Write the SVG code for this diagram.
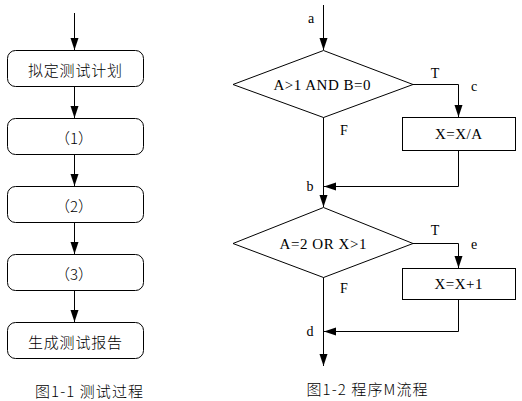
<svg xmlns="http://www.w3.org/2000/svg" width="522" height="401" viewBox="0 0 522 401">
<style>
.ln{stroke:#000;stroke-width:1;fill:none}
.bx{stroke:#000;stroke-width:1;fill:#fff}
.cjk{font-family:"Noto Sans CJK SC","Noto Sans",sans-serif;font-size:15px;font-weight:300;fill:#000}
.ser{font-family:"Liberation Serif",serif;font-size:15px;fill:#000}
.lab{font-family:"Liberation Serif",serif;font-size:14px;fill:#000}
</style>
<defs>
<marker id="ah" markerUnits="userSpaceOnUse" markerWidth="14" markerHeight="10" refX="12" refY="4" orient="auto">
<path d="M0,0 L12,4 L0,8 Z" fill="#000"/>
</marker>
</defs>
<rect width="522" height="401" fill="#fff"/>
<g id="connectors">
<line class="ln" x1="74.5" y1="13" x2="74.5" y2="50" marker-end="url(#ah)"/>
<line class="ln" x1="74.5" y1="86" x2="74.5" y2="118" marker-end="url(#ah)"/>
<line class="ln" x1="74.5" y1="154" x2="74.5" y2="186" marker-end="url(#ah)"/>
<line class="ln" x1="74.5" y1="222" x2="74.5" y2="254" marker-end="url(#ah)"/>
<line class="ln" x1="74.5" y1="290" x2="74.5" y2="322" marker-end="url(#ah)"/>
<line class="ln" x1="323.5" y1="5" x2="323.5" y2="50" marker-end="url(#ah)"/>
<polyline class="ln" points="413,84.5 458.5,84.5 458.5,117" marker-end="url(#ah)"/>
<line class="ln" x1="323.5" y1="117" x2="323.5" y2="207" marker-end="url(#ah)"/>
<polyline class="ln" points="458.5,150 458.5,186.5 324,186.5" marker-end="url(#ah)"/>
<polyline class="ln" points="413,243.5 458.5,243.5 458.5,268" marker-end="url(#ah)"/>
<polyline class="ln" points="458.5,299 458.5,331.5 324,331.5" marker-end="url(#ah)"/>
<line class="ln" x1="323.5" y1="277" x2="323.5" y2="366" marker-end="url(#ah)"/>
</g>
<g id="n1"><rect class="bx" x="7.5" y="50.5" width="136" height="36" rx="8"/><text class="cjk" x="75" y="69" text-anchor="middle" dominant-baseline="central" textLength="94">拟定测试计划</text></g>
<g id="n2"><rect class="bx" x="7.5" y="118.5" width="136" height="36" rx="8"/><text class="cjk" x="74" y="137" text-anchor="middle" dominant-baseline="central">（1）</text></g>
<g id="n3"><rect class="bx" x="7.5" y="186.5" width="136" height="36" rx="8"/><text class="cjk" x="74" y="205" text-anchor="middle" dominant-baseline="central">（2）</text></g>
<g id="n4"><rect class="bx" x="7.5" y="254.5" width="136" height="36" rx="8"/><text class="cjk" x="74" y="273" text-anchor="middle" dominant-baseline="central">（3）</text></g>
<g id="n5"><rect class="bx" x="7.5" y="322.5" width="136" height="36" rx="8"/><text class="cjk" x="75" y="341" text-anchor="middle" dominant-baseline="central" textLength="94">生成测试报告</text></g>
<g id="cap1"><text class="cjk" x="89" y="390" text-anchor="middle" dominant-baseline="central" font-size="14" textLength="108">图1-1 测试过程</text></g>
<g id="d1"><polygon class="bx" points="323.5,50.5 413,84.5 323.5,117.5 233,84.5"/><text class="ser" x="322" y="84.5" text-anchor="middle" dominant-baseline="central" textLength="97">A&gt;1 AND B=0</text></g>
<g id="p1"><rect class="bx" x="402.5" y="117.5" width="113" height="33"/><text class="ser" x="458.5" y="134" text-anchor="middle" dominant-baseline="central" textLength="47">X=X/A</text></g>
<g id="d2"><polygon class="bx" points="323.5,207.5 413,243.5 323.5,277.5 233,243.5"/><text class="ser" x="323" y="243.5" text-anchor="middle" dominant-baseline="central" textLength="87">A=2 OR X&gt;1</text></g>
<g id="p2"><rect class="bx" x="402.5" y="268.5" width="113" height="31"/><text class="ser" x="458.5" y="284" text-anchor="middle" dominant-baseline="central" textLength="48">X=X+1</text></g>
<g id="labels">
<text class="lab" x="311" y="18" text-anchor="middle" dominant-baseline="central">a</text>
<text class="lab" x="435" y="73" text-anchor="middle" dominant-baseline="central">T</text>
<text class="lab" x="474" y="86" text-anchor="middle" dominant-baseline="central">c</text>
<text class="lab" x="344" y="130" text-anchor="middle" dominant-baseline="central">F</text>
<text class="lab" x="310" y="186" text-anchor="middle" dominant-baseline="central">b</text>
<text class="lab" x="435" y="230" text-anchor="middle" dominant-baseline="central">T</text>
<text class="lab" x="474" y="244" text-anchor="middle" dominant-baseline="central">e</text>
<text class="lab" x="344" y="288" text-anchor="middle" dominant-baseline="central">F</text>
<text class="lab" x="310" y="331" text-anchor="middle" dominant-baseline="central">d</text>
</g>
<g id="cap2"><text class="cjk" x="367" y="388" text-anchor="middle" dominant-baseline="central" font-size="14" textLength="121">图1-2 程序M流程</text></g>
</svg>
